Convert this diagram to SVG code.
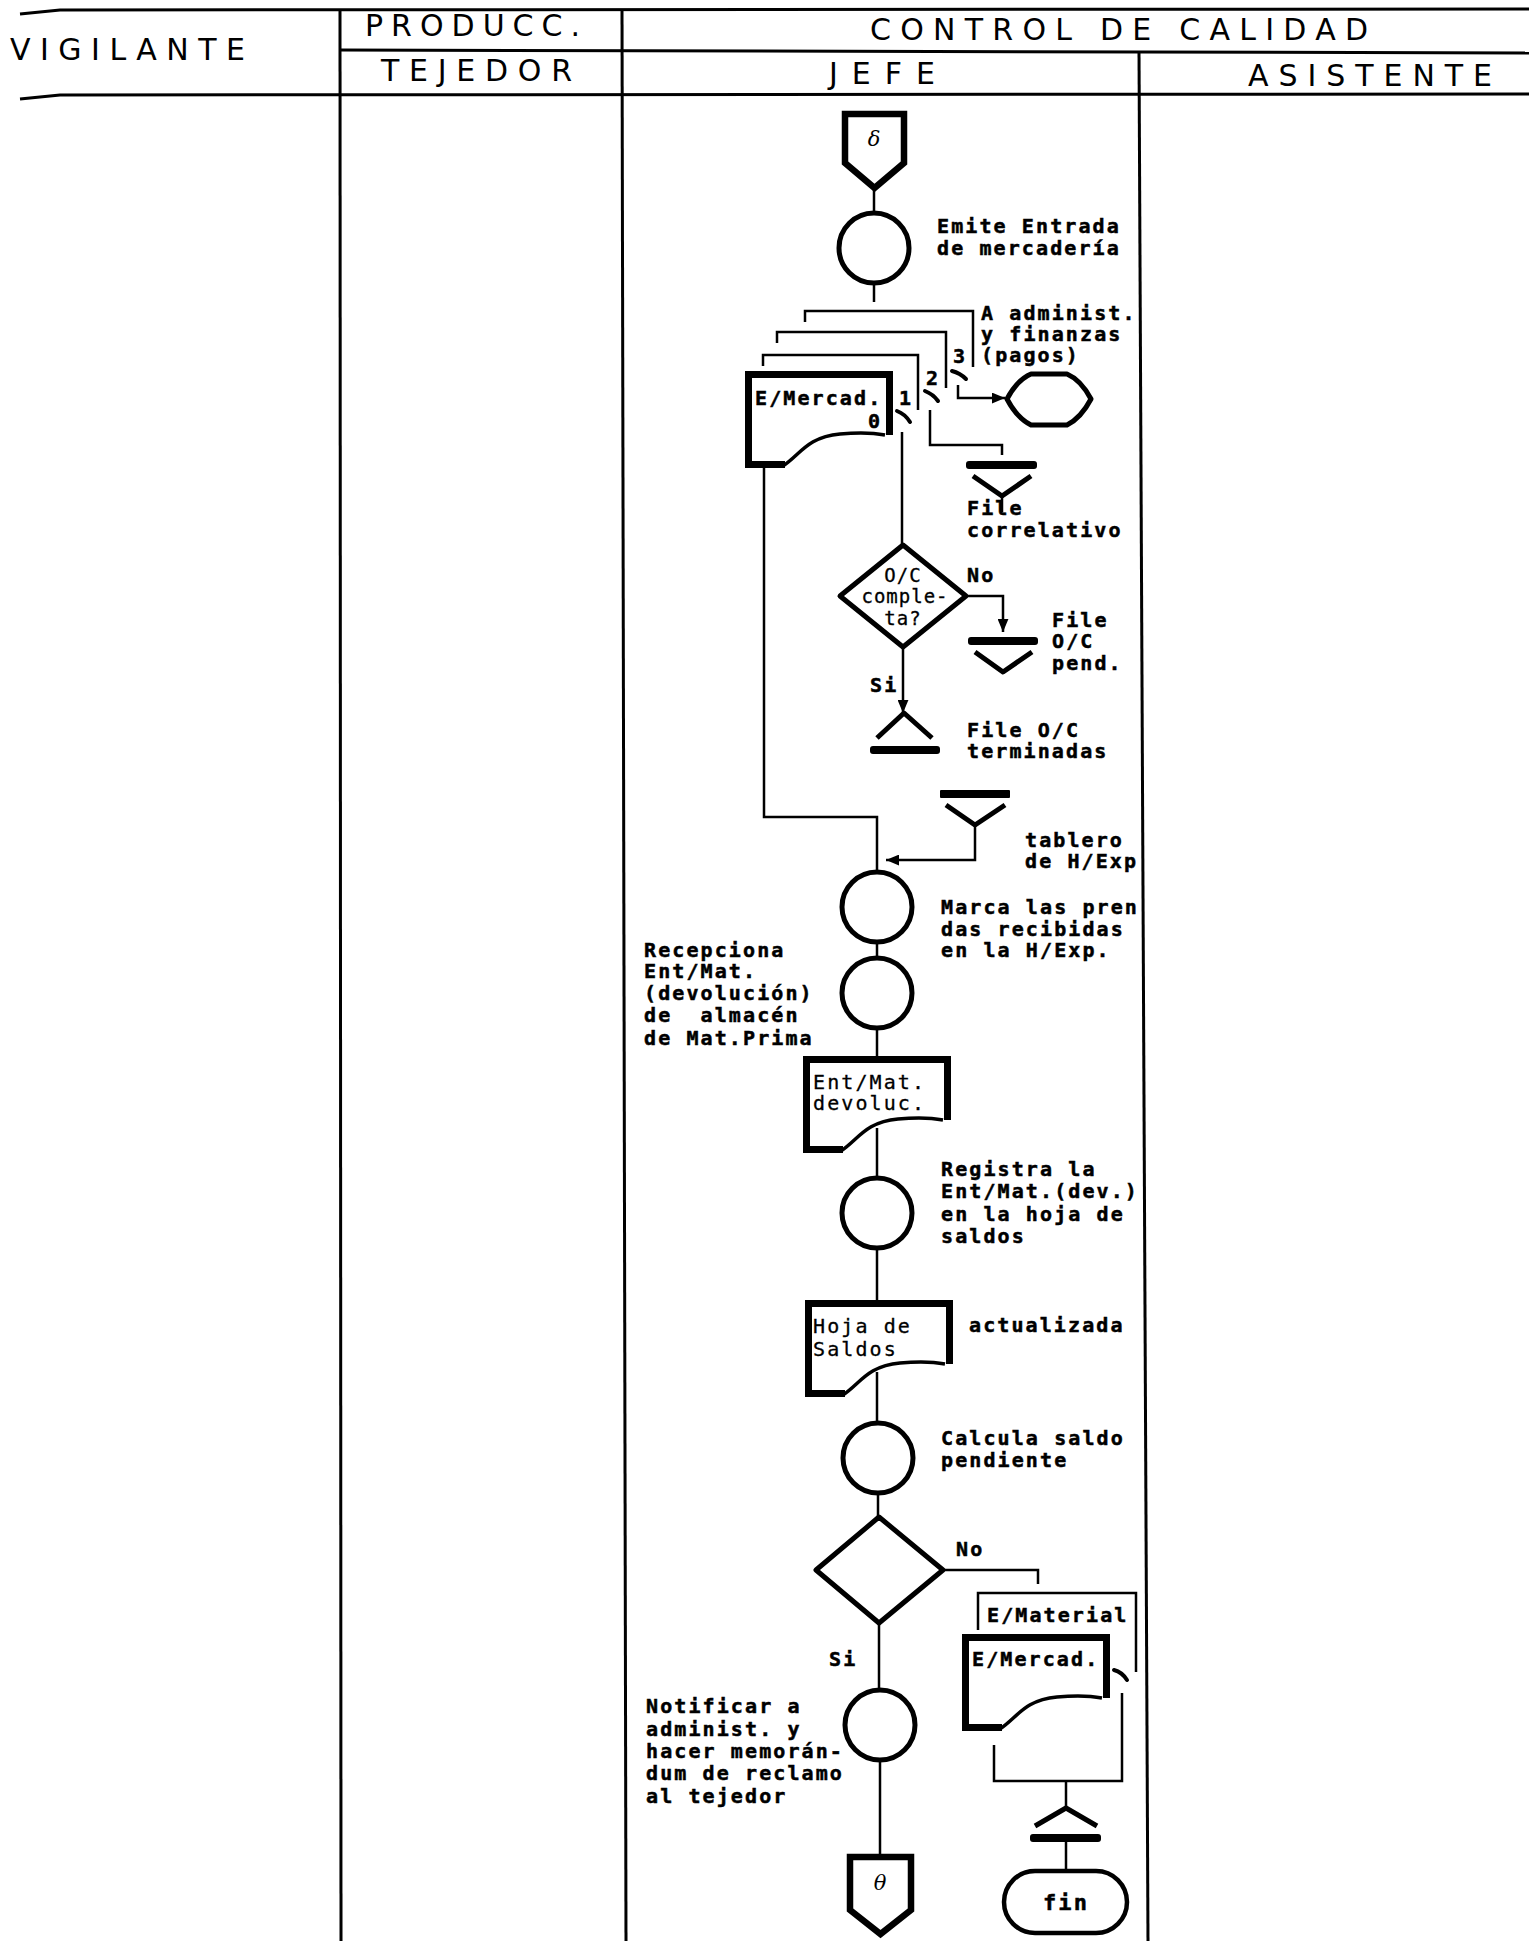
<svg xmlns="http://www.w3.org/2000/svg" width="1529" height="1941" viewBox="0 0 1529 1941">
<style>
.t{font-family:"DejaVu Sans Mono","Liberation Mono",monospace;font-weight:bold;font-size:20px;letter-spacing:2.1px;fill:#000;stroke:#000;stroke-width:0.5px}
.tn{font-weight:normal;stroke-width:0.3px}
.h{font-family:"DejaVu Sans","Liberation Sans",sans-serif;font-size:30px;fill:#000}
.g{font-family:"DejaVu Serif","Liberation Serif",serif;font-style:italic;font-size:21px;fill:#000}
.ln{stroke:#000;stroke-width:2.5;fill:none}
.frame{stroke:#000;stroke-width:3;fill:none}
.c{stroke:#000;stroke-width:5;fill:#fff}
.thick{stroke:#000;stroke-width:7;fill:none}
.mid{stroke:#000;stroke-width:5;fill:none;stroke-linejoin:round}
.tick{stroke:#000;stroke-width:4;fill:none;stroke-linecap:round}
.bar{fill:#000}
</style>
<defs>
<marker id="ah" viewBox="0 0 12 10" refX="12" refY="5" markerWidth="13" markerHeight="11" markerUnits="userSpaceOnUse" orient="auto"><path d="M0 0 L12 5 L0 10 Z" fill="#000"/></marker>
<g id="doc">
<path d="M144.5 64 V3.5 H3.5 V93.5 H40" class="thick"/>
<path d="M38 95 C55 84 62 66 95 63 C115 61 130 62 140 64" class="mid" style="stroke-width:3.5"/>
</g>
</defs>
<rect width="1529" height="1941" fill="#fff"/>

<g id="lanes">
<path class="frame" d="M20 14 L60 10 L1529 9"/>
<path class="frame" d="M340 50 L1529 53"/>
<path class="frame" d="M20 99 L60 95 L1529 94"/>
<path class="frame" d="M340 9 L341 1941"/>
<path class="frame" d="M622 9 L626 1941"/>
<path class="frame" d="M1139 51 L1148 1941"/>
<text class="h" x="10" y="60" textLength="235" lengthAdjust="spacing">VIGILANTE</text>
<text class="h" x="365" y="36" textLength="215" lengthAdjust="spacing">PRODUCC.</text>
<text class="h" x="870" y="40" textLength="498" lengthAdjust="spacing">CONTROL DE CALIDAD</text>
<text class="h" x="381" y="81" textLength="191" lengthAdjust="spacing">TEJEDOR</text>
<text class="h" x="829" y="84" textLength="106" lengthAdjust="spacing">JEFE</text>
<text class="h" x="1248" y="86" textLength="244" lengthAdjust="spacing">ASISTENTE</text>
</g>

<g id="connectors">
<path class="ln" d="M874 188 V213"/>
<path class="ln" d="M874 283 V302"/>
<path class="ln" d="M805 322 V311 H973 V367"/>
<path class="ln" d="M777 343 V332 H946 V388"/>
<path class="ln" d="M763 366 V355 H918 V410"/>
<path class="ln" d="M958 385 V398 H1005" marker-end="url(#ah)"/>
<path class="ln" d="M930 410 V445 H1002 V455"/>
<path class="ln" d="M902 432 V545"/>
<path class="ln" d="M966 596 H1003 V632" marker-end="url(#ah)"/>
<path class="ln" d="M903 647 V713" marker-end="url(#ah)"/>
<path class="ln" d="M975 825 V860 H886" marker-end="url(#ah)"/>
<path class="ln" d="M764 468 V817 H877 V872"/>
<path class="ln" d="M877 942 V958"/>
<path class="ln" d="M877 1028 V1056"/>
<path class="ln" d="M877 1128 V1178"/>
<path class="ln" d="M877 1248 V1300"/>
<path class="ln" d="M877 1372 V1423"/>
<path class="ln" d="M878 1493 V1517"/>
<path class="ln" d="M943 1570 H1038 V1584"/>
<path class="ln" d="M879 1623 V1690"/>
<path class="ln" d="M880 1760 V1855"/>
<path class="ln" d="M978 1630 V1593 H1136 V1672"/>
<path class="ln" d="M1122 1693 V1781 H994 V1745"/>
<path class="ln" d="M1066 1781 V1808"/>
<path class="ln" d="M1066 1842 V1870"/>
</g>

<g id="n-start">
<path d="M845 114 H904 V163 L874.5 188 L845 163 Z" fill="#fff" stroke="#000" stroke-width="6.5" stroke-linejoin="miter"/>
<text class="g" x="874" y="146" text-anchor="middle">δ</text>
</g>

<g id="n-emite">
<circle class="c" cx="874" cy="248" r="35"/>
<text class="t" x="937" y="233">Emite Entrada</text>
<text class="t" x="937" y="255">de mercadería</text>
</g>

<g id="n-emercad">
<use href="#doc" transform="translate(745,371)"/>
<text class="t" x="755" y="405">E/Mercad.</text>
<text class="t" x="868" y="428">0</text>
<text class="t" x="899" y="405">1</text>
<text class="t" x="926" y="385">2</text>
<text class="t" x="953" y="363">3</text>
<path class="tick" d="M897 411 Q905 414 910 422"/>
<path class="tick" d="M925 391 Q933 394 938 401"/>
<path class="tick" d="M952 371 Q960 373 966 379"/>
<text class="t" x="981" y="320">A administ.</text>
<text class="t" x="981" y="341">y finanzas</text>
<text class="t" x="981" y="362">(pagos)</text>
</g>

<g id="n-admin">
<path d="M1007 399 Q1017 380 1031 374 H1067 Q1081 380 1091 399 Q1081 418 1067 425 H1031 Q1017 418 1007 399 Z" fill="#fff" stroke="#000" stroke-width="5" stroke-linejoin="round"/>
</g>

<g id="n-file-correlativo">
<rect class="bar" x="966" y="461" width="71" height="8" rx="3"/>
<path class="mid" d="M973 476 L1002 496 L1031 476"/>
<path class="ln" d="M1002 496 V512"/>
<text class="t" x="967" y="515">File</text>
<text class="t" x="967" y="537">correlativo</text>
</g>

<g id="n-oc-completa">
<path class="mid" d="M903 545 L966 596 L903 647 L840 596 Z" fill="#fff"/>
<text class="t tn" x="903" y="582" text-anchor="middle" style="font-size:19px;letter-spacing:1px">O/C</text>
<text class="t tn" x="905" y="603" text-anchor="middle" style="font-size:19px;letter-spacing:1px">comple-</text>
<text class="t tn" x="903" y="625" text-anchor="middle" style="font-size:19px;letter-spacing:1px">ta?</text>
<text class="t" x="967" y="582">No</text>
<text class="t" x="870" y="692">Si</text>
</g>

<g id="n-file-pend">
<rect class="bar" x="968" y="637" width="70" height="8" rx="3"/>
<path class="mid" d="M975 652 L1003 672 L1032 652"/>
<text class="t" x="1052" y="627">File</text>
<text class="t" x="1052" y="648">O/C</text>
<text class="t" x="1052" y="670">pend.</text>
</g>

<g id="n-file-terminadas">
<path class="mid" d="M877 738 L904 713 L932 738"/>
<rect class="bar" x="870" y="746" width="70" height="8" rx="3"/>
<text class="t" x="967" y="737">File O/C</text>
<text class="t" x="967" y="758">terminadas</text>
</g>

<g id="n-tablero">
<rect class="bar" x="940" y="790" width="70" height="8" rx="1"/>
<path class="mid" d="M946 805 L975 825 L1005 805"/>
<text class="t" x="1025" y="847">tablero</text>
<text class="t" x="1025" y="868">de H/Exp</text>
</g>

<g id="n-marca">
<circle class="c" cx="877" cy="907" r="35"/>
<text class="t" x="941" y="914">Marca las pren</text>
<text class="t" x="941" y="936">das recibidas</text>
<text class="t" x="941" y="957">en la H/Exp.</text>
</g>

<g id="n-recepciona">
<circle class="c" cx="877" cy="993" r="35"/>
<text class="t" x="644" y="957">Recepciona</text>
<text class="t" x="644" y="978">Ent/Mat.</text>
<text class="t" x="644" y="1000">(devolución)</text>
<text class="t" x="644" y="1022" xml:space="preserve">de  almacén</text>
<text class="t" x="644" y="1045">de Mat.Prima</text>
</g>

<g id="n-entmat">
<use href="#doc" transform="translate(803,1056)"/>
<text class="t tn" x="813" y="1089">Ent/Mat.</text>
<text class="t tn" x="813" y="1110">devoluc.</text>
</g>

<g id="n-registra">
<circle class="c" cx="877" cy="1213" r="35"/>
<text class="t" x="941" y="1176">Registra la</text>
<text class="t" x="941" y="1198">Ent/Mat.(dev.)</text>
<text class="t" x="941" y="1221">en la hoja de</text>
<text class="t" x="941" y="1243">saldos</text>
</g>

<g id="n-hoja">
<use href="#doc" transform="translate(805,1300)"/>
<text class="t tn" x="813" y="1333">Hoja de</text>
<text class="t tn" x="813" y="1356">Saldos</text>
<text class="t" x="969" y="1332">actualizada</text>
</g>

<g id="n-calcula">
<circle class="c" cx="878" cy="1458" r="35"/>
<text class="t" x="941" y="1445">Calcula saldo</text>
<text class="t" x="941" y="1467">pendiente</text>
</g>

<g id="n-decision">
<path class="mid" d="M879 1517 L943 1570 L879 1623 L816 1570 Z" fill="#fff"/>
<text class="t" x="956" y="1556">No</text>
<text class="t" x="829" y="1666">Si</text>
</g>

<g id="n-notificar">
<circle class="c" cx="880" cy="1725" r="35"/>
<text class="t" x="646" y="1713">Notificar a</text>
<text class="t" x="646" y="1736">administ. y</text>
<text class="t" x="646" y="1758">hacer memorán-</text>
<text class="t" x="646" y="1780">dum de reclamo</text>
<text class="t" x="646" y="1803">al tejedor</text>
</g>

<g id="n-end-connector">
<path d="M850 1857 H911 V1910 L880.5 1934 L850 1910 Z" fill="#fff" stroke="#000" stroke-width="6.5" stroke-linejoin="miter"/>
<text class="g" x="880" y="1890" text-anchor="middle">θ</text>
</g>

<g id="n-ematerial">
<text class="t" x="987" y="1622">E/Material</text>
<use href="#doc" transform="translate(962,1634)"/>
<text class="t" x="972" y="1666">E/Mercad.</text>
<path class="tick" d="M1114 1670 Q1122 1672 1127 1680"/>
</g>

<g id="n-file-final">
<path class="mid" d="M1035 1826 L1066 1808 L1097 1826"/>
<rect class="bar" x="1030" y="1834" width="71" height="8" rx="3"/>
</g>

<g id="n-fin">
<rect x="1004" y="1871" width="123" height="62" rx="31" fill="#fff" stroke="#000" stroke-width="4.5"/>
<text class="t" x="1066" y="1910" text-anchor="middle" style="font-size:22px">fin</text>
</g>
</svg>
